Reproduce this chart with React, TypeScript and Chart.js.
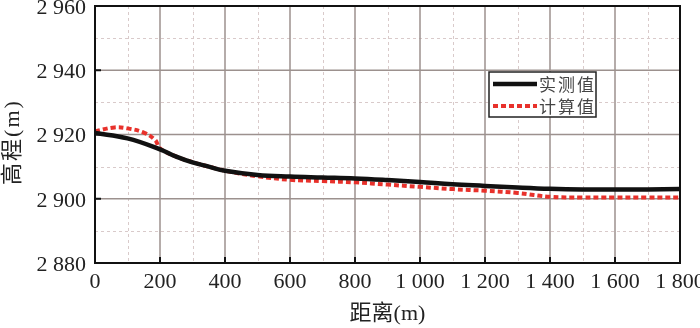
import React, { useEffect, useRef } from "react";
import { Chart, registerables } from "chart.js";

Chart.register(...registerables);

const measuredX = [0, 100, 200, 250, 300, 350, 400, 500, 600, 700, 800, 900, 1000, 1100, 1200, 1300, 1400, 1500, 1600, 1700, 1800];
const measuredY = [2920.5, 2918.8, 2915.4, 2913.1, 2911.3, 2910.0, 2908.7, 2907.4, 2906.9, 2906.6, 2906.3, 2905.8, 2905.2, 2904.5, 2904.0, 2903.5, 2903.1, 2902.9, 2902.9, 2902.9, 2903.0];

const calcX = [0, 60, 100, 150, 185, 200, 250, 300, 350, 400, 500, 600, 700, 800, 900, 1000, 1100, 1200, 1300, 1400, 1500, 1600, 1700, 1800];
const calcY = [2921.0, 2922.2, 2921.9, 2920.6, 2918.3, 2915.7, 2913.1, 2911.4, 2910.0, 2908.7, 2907.0, 2905.9, 2905.5, 2905.1, 2904.4, 2903.7, 2903.0, 2902.5, 2901.8, 2900.6, 2900.4, 2900.4, 2900.4, 2900.4];

const seriesNames = ["实测值", "计算值"];
const xTitle = "距离(m)";
const yTitle = "高程(m)";
const xMin = 0, xMax = 1800, xMajor = 200, xMinor = 100;
const yMin = 2880, yMax = 2960, yMajor = 20, yMinor = 10;

const fmt = (v: number) => {
  const s = String(Math.round(v));
  if (s.length <= 3) return s;
  return s.slice(0, s.length - 3) + " " + s.slice(s.length - 3);
};

const framePlugin = {
  id: "frame",
  beforeDatasetsDraw(chart: any) {
    const { ctx, chartArea: a, scales } = chart;
    const xs = scales.x, ys = scales.y;
    ctx.save();
    ctx.strokeStyle = "#d9caca";
    ctx.lineWidth = 1;
    ctx.setLineDash([3, 3]);
    for (let v = xMin + xMinor; v < xMax; v += xMinor) {
      if (v % xMajor === 0) continue;
      const p = Math.round(xs.getPixelForValue(v)) + 0.5;
      ctx.beginPath(); ctx.moveTo(p, a.top); ctx.lineTo(p, a.bottom); ctx.stroke();
    }
    for (let v = yMin + yMinor; v < yMax; v += yMinor) {
      if (v % yMajor === 0) continue;
      const p = Math.round(ys.getPixelForValue(v)) + 0.5;
      ctx.beginPath(); ctx.moveTo(a.left, p); ctx.lineTo(a.right, p); ctx.stroke();
    }
    ctx.setLineDash([]);
    ctx.strokeStyle = "#9c918e";
    ctx.lineWidth = 1.5;
    for (let v = xMin + xMajor; v < xMax; v += xMajor) {
      const p = xs.getPixelForValue(v);
      ctx.beginPath(); ctx.moveTo(p, a.top); ctx.lineTo(p, a.bottom); ctx.stroke();
    }
    for (let v = yMin + yMajor; v < yMax; v += yMajor) {
      const p = ys.getPixelForValue(v);
      ctx.beginPath(); ctx.moveTo(a.left, p); ctx.lineTo(a.right, p); ctx.stroke();
    }
    ctx.restore();
  },
  afterDatasetsDraw(chart: any) {
    const { ctx, chartArea: a, scales } = chart;
    const xs = scales.x, ys = scales.y;
    ctx.save();
    ctx.strokeStyle = "#111";
    ctx.lineWidth = 2;
    ctx.strokeRect(a.left, a.top, a.right - a.left, a.bottom - a.top);
    for (let v = xMin + xMajor; v < xMax; v += xMajor) {
      const p = xs.getPixelForValue(v);
      ctx.beginPath(); ctx.moveTo(p, a.bottom); ctx.lineTo(p, a.bottom - 6); ctx.stroke();
    }
    for (let v = yMin + yMajor; v < yMax; v += yMajor) {
      const p = ys.getPixelForValue(v);
      ctx.beginPath(); ctx.moveTo(a.left, p); ctx.lineTo(a.left + 6, p); ctx.stroke();
    }
    const lx = 489, ly = 72, lw = 107, lh = 45;
    ctx.fillStyle = "#fff";
    ctx.fillRect(lx, ly, lw, lh);
    ctx.lineWidth = 1.5;
    ctx.strokeStyle = "#222";
    ctx.strokeRect(lx, ly, lw, lh);
    chart.data.datasets.forEach((ds: any, i: number) => {
      const yy = ly + 12 + i * 22;
      ctx.strokeStyle = ds.borderColor;
      ctx.lineWidth = ds.borderWidth;
      ctx.setLineDash(ds.borderDash || []);
      ctx.beginPath(); ctx.moveTo(lx + 4, yy); ctx.lineTo(lx + 48, yy); ctx.stroke();
      ctx.setLineDash([]);
      ctx.fillStyle = "#444";
      ctx.font = '17px "Noto Sans CJK SC", sans-serif';
      ctx.textBaseline = "middle";
      ctx.textAlign = "left";
      (ctx as any).letterSpacing = "2px";
      ctx.fillText(ds.label, lx + 50, yy + 1);
      (ctx as any).letterSpacing = "0px";
    });
    ctx.save();
    ctx.translate(13, 142);
    ctx.rotate(-Math.PI / 2);
    ctx.fillStyle = "#222";
    ctx.font = '22px "Liberation Serif", "Noto Sans CJK SC", serif';
    ctx.textAlign = "center";
    ctx.textBaseline = "middle";
    (ctx as any).letterSpacing = "2px";
    ctx.fillText(yTitle, 0, 0);
    ctx.restore();
    ctx.restore();
  },
};

export default function App() {
  const ref = useRef<HTMLCanvasElement | null>(null);
  useEffect(() => {
    if (!ref.current) return;
    const chart = new Chart(ref.current, {
      type: "line",
      data: {
        datasets: [
          {
            label: seriesNames[0],
            data: measuredX.map((x, i) => ({ x, y: measuredY[i] })),
            borderColor: "#111",
            borderWidth: 4.5,
            pointRadius: 0,
            tension: 0.4,
            fill: false,
          },
          {
            label: seriesNames[1],
            data: calcX.map((x, i) => ({ x, y: calcY[i] })),
            borderColor: "#e8312b",
            borderWidth: 4,
            borderDash: [5, 3],
            pointRadius: 0,
            tension: 0.4,
            fill: false,
          },
        ],
      },
      options: {
        responsive: false,
        animation: false,
        layout: { padding: { left: 0, right: 20, top: 6, bottom: 0 } },
        plugins: { legend: { display: false }, tooltip: { enabled: false } },
        scales: {
          x: {
            type: "linear",
            min: xMin,
            max: xMax,
            grid: { display: false, drawTicks: false },
            border: { display: false },
            ticks: {
              stepSize: xMajor,
              padding: 6,
              color: "#222",
              maxRotation: 0,
              autoSkip: false,
              font: { family: '"Liberation Serif", serif', size: 22 },
              callback: (v: any) => fmt(Number(v)),
            },
            title: {
              display: true,
              text: xTitle,
              color: "#222",
              padding: { top: 0, bottom: 1 },
              font: { family: '"Liberation Serif", "Noto Sans CJK SC", serif', size: 22 },
            },
            afterFit: (s: any) => {
              s.height = 65;
              s.paddingLeft = 0;
              s.paddingRight = 0;
            },
          },
          y: {
            min: yMin,
            max: yMax,
            grid: { display: false, drawTicks: false },
            border: { display: false },
            ticks: {
              stepSize: yMajor,
              padding: 9,
              labelOffset: 2,
              color: "#222",
              font: { family: '"Liberation Serif", serif', size: 22 },
              callback: (v: any) => fmt(Number(v)),
            },
            afterFit: (s: any) => {
              s.width = 95;
              s.paddingTop = 0;
              s.paddingBottom = 0;
            },
          },
        },
      },
      plugins: [framePlugin],
    } as any);
    return () => chart.destroy();
  }, []);
  return (
    <div style={{ position: "absolute", left: 0, top: 0, width: 700, height: 328, background: "#fff" }}>
      <canvas ref={ref} width={700} height={328} />
    </div>
  );
}
